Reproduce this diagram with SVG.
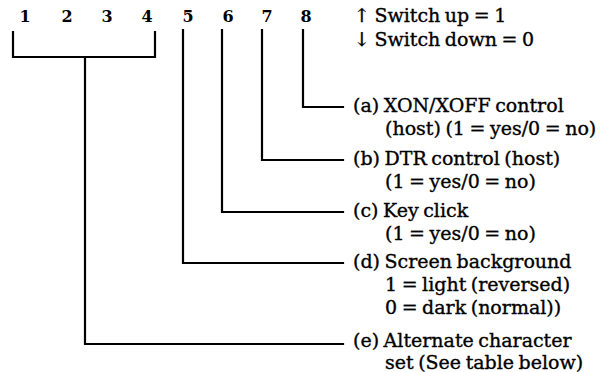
<svg xmlns="http://www.w3.org/2000/svg" width="612" height="372" viewBox="0 0 612 372">
<style>
  .num { font-family: "DejaVu Serif", "Liberation Serif", serif; font-size: 16px; font-weight: bold; fill: #000; text-anchor: middle; }
  .lbl { font-family: "DejaVu Serif", "Liberation Serif", serif; font-size: 19px; fill: #000; stroke: #000; stroke-width: 0.35; word-spacing: -1.5px; }
  .wire { fill: none; stroke: #000; stroke-width: 2.2; stroke-linejoin: miter; stroke-linecap: square; }
</style>
<rect width="612" height="372" fill="#fff"/>
<g id="switch-numbers">
  <text class="num" x="25" y="22">1</text>
  <text class="num" x="67" y="22">2</text>
  <text class="num" x="107" y="22">3</text>
  <text class="num" x="147" y="22">4</text>
  <text class="num" x="188" y="22">5</text>
  <text class="num" x="228" y="22">6</text>
  <text class="num" x="267" y="22">7</text>
  <text class="num" x="306" y="22">8</text>
</g>
<g id="legend">
  <text class="lbl" x="354" y="22">↑ Switch up = 1</text>
  <text class="lbl" x="354" y="46">↓ Switch down = 0</text>
</g>
<g id="label-a">
  <text class="lbl" x="353" y="112">(a) XON/XOFF control</text>
  <text class="lbl" x="385" y="135">(host) (1 = yes/0 = no)</text>
</g>
<g id="label-b">
  <text class="lbl" x="353" y="165">(b) DTR control (host)</text>
  <text class="lbl" x="385" y="188">(1 = yes/0 = no)</text>
</g>
<g id="label-c">
  <text class="lbl" x="353" y="217">(c) Key click</text>
  <text class="lbl" x="385" y="240">(1 = yes/0 = no)</text>
</g>
<g id="label-d">
  <text class="lbl" x="353" y="268">(d) Screen background</text>
  <text class="lbl" x="385" y="291">1 = light (reversed)</text>
  <text class="lbl" x="385" y="314">0 = dark (normal))</text>
</g>
<g id="label-e">
  <text class="lbl" x="353" y="347">(e) Alternate character</text>
  <text class="lbl" x="385" y="369">set (See table below)</text>
</g>
<g id="connectors">
  <path class="wire" d="M13,32 V57 H155 V32"/>
  <path class="wire" d="M85,57 V344 H343"/>
  <path class="wire" d="M183,30 V263 H343"/>
  <path class="wire" d="M222,30 V212 H343"/>
  <path class="wire" d="M262,30 V160 H343"/>
  <path class="wire" d="M303,30 V107 H343"/>
</g>
</svg>
